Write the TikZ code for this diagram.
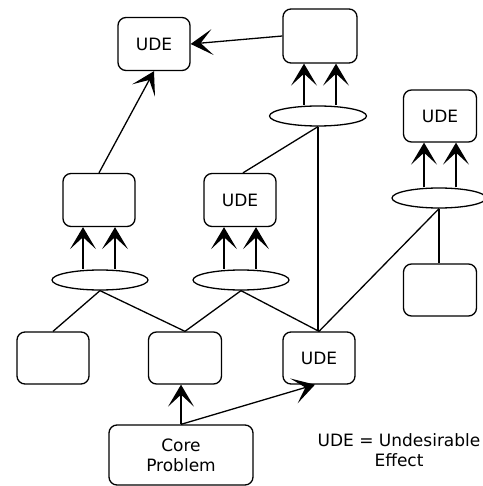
\documentclass[tikz,border=0pt]{standalone}
\usepackage{fontspec}
\setmainfont{DejaVu Sans}
\usetikzlibrary{arrows.meta,shapes.geometric,calc}
\begin{document}
\begin{tikzpicture}[x=1pt,y=-1pt,
  every node/.style={font=\fontsize{17}{20}\selectfont},
  rbox/.style={draw, line width=1.3pt, rounded corners=8pt, minimum width=72pt, minimum height=53pt, inner sep=0pt},
  andell/.style={draw, line width=1.3pt, ellipse, minimum width=96pt, minimum height=20pt, inner sep=0pt},
  conn/.style={line width=1.3pt},
  arr/.style={line width=1.3pt, -{Stealth[length=22pt,width=26pt,inset=12pt]}}
]
\useasboundingbox (0,0) rectangle (482,486);
% boxes
\node[rbox] (udeA) at (154,44) {UDE};
\node[rbox, minimum width=74pt, minimum height=54pt] (topbox) at (320,36) {};
\node[andell, minimum width=97pt] (ellTop) at (318,116) {};
\node[rbox, minimum width=73pt, minimum height=52pt] (udeR) at (440,116) {UDE};
\node[andell, minimum width=94pt] (ellR) at (439,198) {};
\node[rbox] (boxL) at (99,200) {};
\node[rbox] (udeM) at (240,200) {UDE};
\node[andell] (ellL) at (100,280) {};
\node[andell] (ellM) at (241,280) {};
\node[rbox, minimum width=73pt, minimum height=52pt] (boxRB) at (440,290) {};
\node[rbox, minimum height=52pt] (b1) at (53,358) {};
\node[rbox, minimum width=73pt, minimum height=52pt] (b2) at (185,358) {};
\node[rbox, minimum height=52pt] (udeB) at (319,358) {UDE};
\node[rbox, minimum width=144pt, minimum height=60pt, align=center] (core) at (181,455) {Core\\Problem};
\node[align=center] (legend) at (399,450) {UDE = Undesirable\\Effect};
% AND arrows
\foreach \e/\b in {ellTop/topbox, ellR/udeR, ellL/boxL, ellM/udeM}{
  \draw[arr] ([xshift=-16pt]\b.south |- \e.north) -- ([xshift=-16pt]\b.south);
  \draw[arr] ([xshift=16pt]\b.south |- \e.north) -- ([xshift=16pt]\b.south);
}
% causal arrows
\draw[arr] (boxL.north) -- (udeA.south);
\draw[arr] (topbox.west) -- (udeA.east);
\draw[arr] (core.north) -- (core.north |- b2.south);
\draw[arr] (core.north) -- ([xshift=-4pt]udeB.south);
% plain connectors
\draw[conn] (ellTop.south) -- ([xshift=3pt]udeM.north);
\draw[conn] (ellTop.south) -- (ellTop.south |- udeB.north);
\draw[conn] (ellR.south) -- (ellR.south |- boxRB.north);
\draw[conn] (ellR.south) -- (udeB.north);
\draw[conn] (ellL.south) -- (b1.north);
\draw[conn] (ellL.south) -- (b2.north);
\draw[conn] (ellM.south) -- (b2.north);
\draw[conn] (ellM.south) -- (udeB.north);
\end{tikzpicture}
\end{document}
